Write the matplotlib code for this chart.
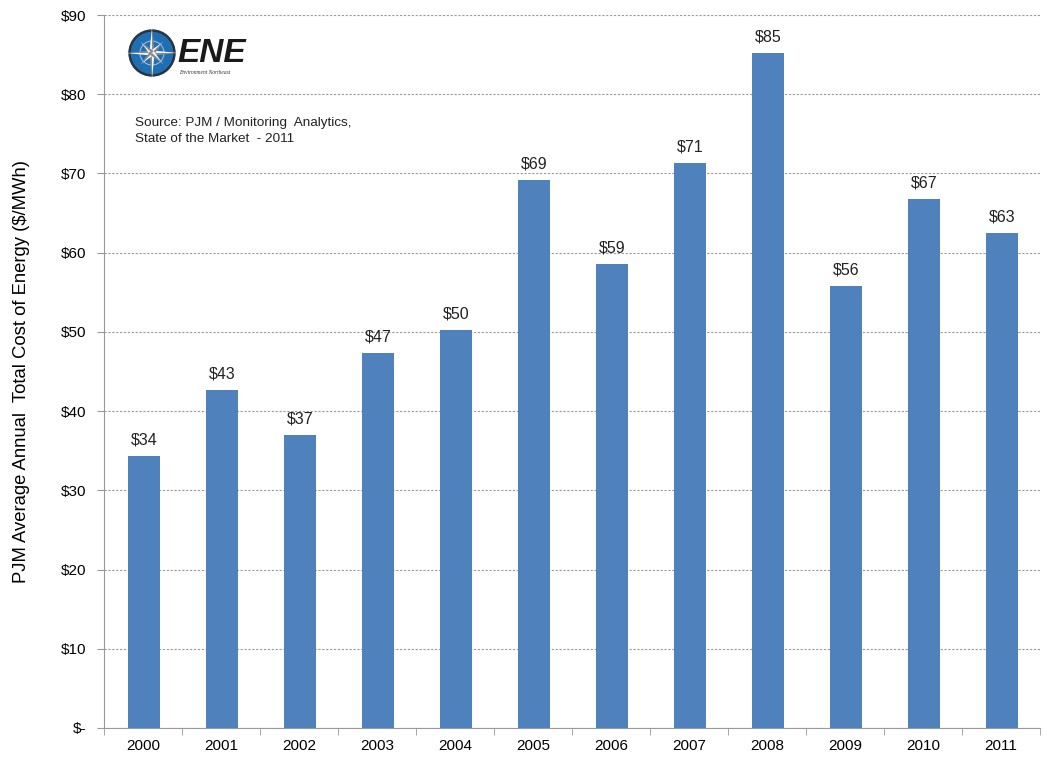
import matplotlib
matplotlib.use("Agg")
import matplotlib.pyplot as plt
from matplotlib.patches import Circle, Polygon
import numpy as np

plt.rcParams['font.family'] = ['Liberation Sans', 'DejaVu Sans']

years = ["2000", "2001", "2002", "2003", "2004", "2005", "2006", "2007", "2008", "2009", "2010", "2011"]
costs = [34.3, 42.7, 37.0, 47.3, 50.2, 69.2, 58.6, 71.3, 85.2, 55.8, 66.8, 62.5]
bar_labels = ["$34", "$43", "$37", "$47", "$50", "$69", "$59", "$71", "$85", "$56", "$67", "$63"]
yticks = [0, 10, 20, 30, 40, 50, 60, 70, 80, 90]
ytick_labels = ["$-", "$10", "$20", "$30", "$40", "$50", "$60", "$70", "$80", "$90"]

fig = plt.figure(figsize=(10.47, 7.61), dpi=100)
ax = fig.add_axes([104/1047, 33/761, (1040-104)/1047, (728-15)/761])

x = np.arange(len(years))
ax.bar(x + 0.015, costs, width=0.41, color="#4F81BD", zorder=3)
for xi, v, lab in zip(x, costs, bar_labels):
    ax.annotate(lab, (xi + 0.015, v), xytext=(0, 6), textcoords="offset points",
                ha="center", va="bottom", fontsize=11.5, color="#222222")

ax.set_xlim(-0.5, len(years) - 0.5)
ax.set_ylim(0, 90)
ax.set_yticks(yticks)
ax.set_yticklabels(ytick_labels, fontsize=11)
ax.set_xticks(x)
ax.set_xticklabels(years, fontsize=11)
ax.set_xticks(np.arange(len(years) + 1) - 0.5, minor=True)
ax.tick_params(axis="x", which="major", length=0, pad=8)
ax.tick_params(axis="x", which="minor", length=5, color="#999999")
ax.tick_params(axis="y", length=5, color="#999999", pad=8)
ax.yaxis.grid(True, linestyle=(0, (2, 1.5)), color="#999999", linewidth=0.8, zorder=0)
for s in ["top", "right"]:
    ax.spines[s].set_visible(False)
for s in ["left", "bottom"]:
    ax.spines[s].set_color("#999999")
ax.set_ylabel("PJM Average Annual  Total Cost of Energy ($/MWh)", fontsize=13.3, labelpad=22)

# Source text
fig.text(135/1047, 1 - 131/761, "Source: PJM / Monitoring  Analytics,\nState of the Market  - 2011",
         fontsize=9.7, va="center", ha="left", color="#222222", linespacing=1.35)

# Logo
lax = fig.add_axes([125/1047, 1 - 80/761, 130/1047, 54/761])
lax.set_xlim(0, 130)
lax.set_ylim(0, 54)
lax.set_aspect("equal")
lax.axis("off")
cx, cy = 27, 27
lax.add_patch(Circle((cx, cy), 23, color="#2a3440"))
lax.add_patch(Circle((cx, cy), 20.5, color="#1f6fb5"))
lax.add_patch(Circle((cx, cy), 12, fill=False, ec="#a0b8d0", lw=0.8))
for ang, L in [(90, 26), (0, 26), (180, 26), (270, 26), (45, 16), (135, 16), (225, 16), (315, 16)]:
    a = np.deg2rad(ang)
    w = 2.6
    tip = (cx + L*np.cos(a), cy + L*np.sin(a))
    l1 = (cx + w*np.cos(a + np.pi/2), cy + w*np.sin(a + np.pi/2))
    l2 = (cx + w*np.cos(a - np.pi/2), cy + w*np.sin(a - np.pi/2))
    lax.add_patch(Polygon([l1, tip, (cx, cy)], color="#f4f4f4", lw=0))
    lax.add_patch(Polygon([l2, tip, (cx, cy)], color="#8a8a8a", lw=0))
lax.text(52, 27, "ENE", fontsize=24, fontweight="bold", fontstyle="italic",
         color="#1a1a1a", va="center", ha="left")
lax.text(54, 8, "Environment Northeast", fontsize=4, fontstyle="italic",
         family="Liberation Serif", color="#333333", va="center", ha="left")

fig.savefig("out.png", dpi=100)
